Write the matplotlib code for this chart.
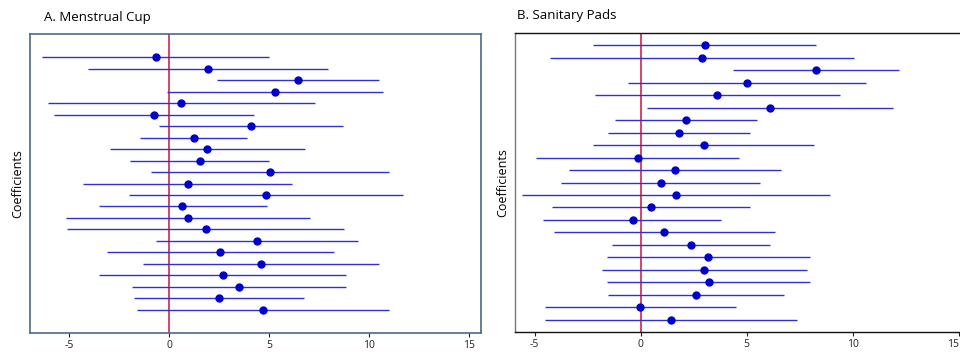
import matplotlib.pyplot as plt
import numpy as np

plt.rcParams['font.family'] = ['Open Sans', 'DejaVu Sans']

# coefficients, listed top row to bottom row
cup_coef = [-0.68, 1.93, 6.45, 5.3, 0.58, -0.75, 4.1, 1.22, 1.9, 1.52, 5.03, 0.92,
            4.82, 0.65, 0.93, 1.82, 4.37, 2.53, 4.6, 2.67, 3.48, 2.5, 4.68]
cup_lo = [-6.35, -4.05, 2.4, -0.1, -6.07, -5.75, -0.5, -1.47, -2.95, -1.98, -0.92, -4.3,
          -2.03, -3.53, -5.17, -5.1, -0.67, -3.13, -1.33, -3.5, -1.87, -1.75, -1.62]
cup_hi = [5.0, 7.92, 10.48, 10.68, 7.27, 4.25, 8.68, 3.9, 6.77, 5.0, 10.98, 6.15,
          11.68, 4.88, 7.03, 8.72, 9.42, 8.22, 10.52, 8.83, 8.85, 6.72, 11.0]

pad_coef = [3.02, 2.87, 8.25, 5.0, 3.6, 6.11, 2.13, 1.81, 2.98, -0.14, 1.63, 0.97,
            1.67, 0.48, -0.38, 1.11, 2.37, 3.19, 3.0, 3.21, 2.62, -0.02, 1.43]
pad_lo = [-2.25, -4.27, 4.37, -0.62, -2.16, 0.3, -1.22, -1.52, -2.24, -4.92, -3.37, -3.75,
          -5.62, -4.19, -4.59, -4.08, -1.37, -1.6, -1.84, -1.59, -1.54, -4.51, -4.51]
pad_hi = [8.27, 10.05, 12.16, 10.63, 9.38, 11.92, 5.48, 5.14, 8.19, 4.62, 6.63, 5.65,
          8.94, 5.16, 3.81, 6.32, 6.11, 7.97, 7.84, 8.0, 6.78, 4.49, 7.38]

x_ticks = [-5, 0, 5, 10, 15]
x_tick_labels = ['-5', '0', '5', '10', '15']

line_col = '#3030d4'
dot_col = '#0000cc'
ref_col = '#d0103c'

fig = plt.figure(figsize=(9.6, 3.54), dpi=100)

def draw(ax, coef, lo, hi):
    n = len(coef)
    y = np.arange(n, 0, -1)
    ax.hlines(y, lo, hi, color=line_col, lw=1.0, zorder=2)
    ax.axvline(0, color=ref_col, lw=1.1, zorder=1)
    ax.plot(coef, y, 'o', color=dot_col, ms=5, zorder=3)
    ax.set_yticks([])
    ax.set_xticks(x_ticks)
    ax.set_xticklabels(x_tick_labels)
    ax.tick_params(axis='x', labelsize=7.5, length=3, width=0.8, pad=2, colors='#222222')
    ax.set_ylabel('Coefficients', fontsize=9, labelpad=4)

# A. Menstrual Cup
ax1 = fig.add_axes([30 / 960, 1 - 333 / 354, 451 / 960, 299 / 354])
draw(ax1, cup_coef, cup_lo, cup_hi)
ax1.set_xlim(-6.97, 15.6)
ax1.set_ylim(-1.05, 25.05)
for s in ax1.spines.values():
    s.set_color('#4a6a8a')
    s.set_linewidth(1.2)
fig.text(44 / 960, 1 - 17 / 354, 'A. Menstrual Cup', fontsize=9.5, va='center', ha='left')

# B. Sanitary Pads
ax2 = fig.add_axes([515 / 960, 1 - 332 / 354, 470 / 960, 299 / 354])
draw(ax2, pad_coef, pad_lo, pad_hi)
ax2.set_xlim(-5.93, 16.24)
ax2.set_ylim(0, 24)
for s in ax2.spines.values():
    s.set_color('#111111')
    s.set_linewidth(1.0)
ax2.spines['left'].set_color('#777777')
# last label sits at the figure edge, keep it inside
ax2.get_xticklabels()[-1].set_horizontalalignment('right')
fig.text(517 / 960, 1 - 16 / 354, 'B. Sanitary Pads', fontsize=9.5, va='center', ha='left')

fig.savefig('out.png', dpi=100)
